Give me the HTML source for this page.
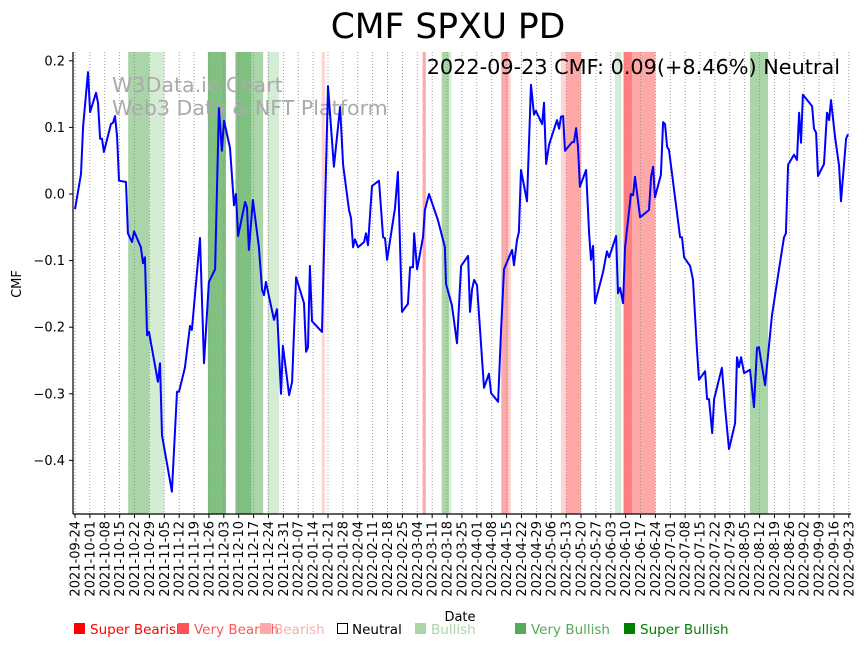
<!DOCTYPE html>
<html><head><meta charset="utf-8"><style>
html,body{margin:0;padding:0;background:#fff;}
svg{display:block;font-family:"DejaVu Sans","Liberation Sans",sans-serif;}
</style></head><body>
<svg id="chart" width="864" height="646" viewBox="0 0 864 646" xmlns="http://www.w3.org/2000/svg">
<text x="448" y="38" font-size="34.5" text-anchor="middle">CMF SPXU PD</text>
<g id="bands"></g>
<g id="grid"></g>
<text x="112" y="92" font-size="20.6" fill="#aaaaaa">W3Data.io Chart</text>
<text x="112" y="115" font-size="20.6" fill="#aaaaaa">Web3 Data &amp; NFT Platform</text>
<g id="series"></g>
<g id="axes"></g>
<text x="840" y="74" font-size="20.8" text-anchor="end">2022-09-23 CMF: 0.09(+8.46%) Neutral</text>
<text x="460" y="621" font-size="13" text-anchor="middle">Date</text>
<text transform="translate(21,284) rotate(-90)" font-size="13" text-anchor="middle">CMF</text>
<g font-size="13.5">
<g><rect x="74" y="623" width="11" height="11" fill="#ff0000"/><text x="90" y="634" fill="#ff0000">Super Bearish</text></g>
<g><rect x="178" y="623" width="11" height="11" fill="#ff5555"/><text x="194" y="634" fill="#ff5555">Very Bearish</text></g>
<g><rect x="260" y="623" width="11" height="11" fill="#ffaaaa"/><text x="274" y="634" fill="#ffaaaa">Bearish</text></g>
<g><rect x="337.5" y="623.5" width="10" height="10" fill="#fff" stroke="#000"/><text x="352" y="634" fill="#000">Neutral</text></g>
<g><rect x="415" y="623" width="11" height="11" fill="#aad4aa"/><text x="431" y="634" fill="#aad4aa">Bullish</text></g>
<g><rect x="515" y="623" width="11" height="11" fill="#55aa55"/><text x="531" y="634" fill="#55aa55">Very Bullish</text></g>
<g><rect x="624" y="623" width="11" height="11" fill="#008000"/><text x="640" y="634" fill="#008000">Super Bullish</text></g>
</g>
</svg>
<script>
const startDate = "2021-09-24";
const dayOffsets = [0,2.8,3.8,6.1,7.1,9.9,10.8,11.8,12.7,13.6,16.9,17.9,18.8,19.8,20.7,24.0,24.9,26.8,27.8,31.0,32.0,32.9,33.9,34.8,39.0,40.0,40.9,45.6,48.0,48.9,51.7,54.1,55.0,58.8,60.7,63.0,65.9,67.7,69.1,70.1,72.9,74.8,75.7,76.7,80.0,80.9,81.8,83.7,86.5,88.0,88.9,89.8,93.6,95.0,96.9,97.8,100.7,102.1,104.0,107.7,108.7,109.6,110.5,111.5,116.2,119.0,121.8,124.7,126.1,128.9,129.8,130.8,131.7,133.1,136.0,136.9,137.8,139.7,143.0,144.9,145.8,146.8,150.5,151.9,153.8,156.6,157.6,159.0,159.5,160.9,163.7,164.6,166.5,170.7,174.0,174.5,177.3,179.7,181.6,184.9,185.8,186.8,187.7,189.1,192.4,194.7,195.7,199.0,200.4,201.8,205.6,206.5,207.9,208.8,209.8,212.6,214.5,215.9,216.8,219.7,220.6,221.6,223.0,223.9,226.7,227.7,228.6,229.6,230.5,233.8,234.7,235.7,236.6,237.5,240.4,241.8,242.7,243.7,244.6,248.4,250.2,251.2,254.5,255.4,256.4,257.8,258.7,261.5,262.5,263.4,265.8,270.0,271.0,271.9,272.8,275.6,276.6,277.5,278.5,279.4,284.6,285.5,286.5,289.3,290.7,292.6,293.5,296.4,297.3,298.2,299.7,300.6,304.3,305.8,307.6,310.5,311.4,312.3,313.3,314.7,317.5,319.4,320.8,321.7,324.6,327.8,331.1,333.5,334.4,335.4,338.2,339.6,340.6,341.5,342.4,346.7,347.6,348.6,349.5,352.3,353.7,354.7,355.6,357.5,359.4,360.3,362.7,363.6];
const cmfValues = [-0.023,0.030,0.101,0.183,0.123,0.152,0.137,0.083,0.083,0.063,0.105,0.107,0.117,0.086,0.020,0.018,-0.059,-0.072,-0.056,-0.080,-0.104,-0.095,-0.212,-0.207,-0.282,-0.254,-0.362,-0.447,-0.297,-0.297,-0.261,-0.198,-0.204,-0.066,-0.254,-0.132,-0.113,0.129,0.065,0.110,0.069,-0.017,0.000,-0.063,-0.012,-0.020,-0.084,-0.009,-0.080,-0.144,-0.152,-0.132,-0.189,-0.173,-0.300,-0.228,-0.302,-0.282,-0.125,-0.164,-0.237,-0.230,-0.108,-0.191,-0.207,0.162,0.041,0.131,0.044,-0.024,-0.036,-0.080,-0.068,-0.080,-0.072,-0.059,-0.077,0.012,0.020,-0.065,-0.066,-0.099,-0.021,0.033,-0.177,-0.165,-0.110,-0.110,-0.059,-0.113,-0.065,-0.024,0.000,-0.039,-0.080,-0.135,-0.167,-0.224,-0.108,-0.093,-0.177,-0.143,-0.129,-0.137,-0.291,-0.270,-0.299,-0.312,-0.203,-0.113,-0.084,-0.107,-0.069,-0.057,0.036,-0.011,0.164,0.119,0.125,0.105,0.137,0.045,0.074,0.083,0.111,0.098,0.116,0.117,0.065,0.078,0.078,0.099,0.071,0.011,0.036,-0.059,-0.099,-0.078,-0.164,-0.117,-0.086,-0.095,-0.063,-0.149,-0.141,-0.164,-0.081,0.000,-0.002,0.026,-0.035,-0.024,0.026,0.041,-0.005,0.029,0.108,0.105,0.071,0.066,-0.065,-0.065,-0.095,-0.108,-0.129,-0.237,-0.279,-0.266,-0.308,-0.308,-0.359,-0.308,-0.261,-0.321,-0.383,-0.344,-0.245,-0.260,-0.245,-0.269,-0.264,-0.320,-0.231,-0.230,-0.287,-0.183,-0.114,-0.065,-0.059,0.044,0.059,0.051,0.122,0.077,0.149,0.132,0.098,0.092,0.027,0.045,0.122,0.111,0.141,0.086,0.042,-0.011,0.083,0.090];
const yTicks = [0.2,0.1,0.0,-0.1,-0.2,-0.3,-0.4];
const yTickLabels = ["0.2","0.1","0.0","\u22120.1","\u22120.2","\u22120.3","\u22120.4"];
const bandStart = [25,35,62.5,75.5,83,90.5,116,163.5,172.5,176,200.5,204,228.5,231,254,258,262,317.5];
const bandEnd = [35,42,71,83,88.5,96,117.5,165,176,177,204,205,231,238,257,262,273,326];
const bandLevel = ["vbull","bull","sbull","sbull","vbull","bull","bear","vbear","vbull","bull","vbear","bear","bear","vbear","bull","sbear","vbear","vbull"];
const levelColors = {sbull:"#80c080",vbull:"#a9d5a9",bull:"#d4ebd4",bear:"#ffd4d4",vbear:"#ffa8a8",sbear:"#ff8080"};

const NS="http://www.w3.org/2000/svg";
const X0=75, PXD=2.126, Y0=194, PXV=666, TOP=52, BOT=514, LEFT=73, RIGHT=851;
function xScale(d){return X0+d*PXD;}
function yScale(v){return Y0-v*PXV;}
function mk(tag,attrs,parent){const e=document.createElementNS(NS,tag);for(const k in attrs)e.setAttribute(k,attrs[k]);parent.appendChild(e);return e;}

const bands=document.getElementById('bands');
for(let i=0;i<bandStart.length;i++){
  const r=mk('rect',{x:xScale(bandStart[i]),y:TOP,width:(bandEnd[i]-bandStart[i])*PXD,height:BOT-TOP,fill:levelColors[bandLevel[i]]},bands);
  
  
}
const grid=document.getElementById('grid');
const axes=document.getElementById('axes');
const sd=new Date(startDate+"T00:00:00Z");
for(let k=0;k<=52;k++){
  const x=xScale(k*7);
  const gl=mk('line',{x1:x,x2:x,y1:TOP,y2:BOT,stroke:'#888',"stroke-width":0.8,"stroke-dasharray":"1,2"},grid);
  
  
  const tk=mk('line',{x1:x,x2:x,y1:BOT,y2:BOT+4,stroke:'#000',"stroke-width":1},axes);
  
  
  const dt=new Date(sd.getTime()+k*7*86400000);
  const lbl=dt.toISOString().slice(0,10);
  const t=mk('text',{transform:`translate(${x+4.5},${BOT+7}) rotate(-90)`,"font-size":13,"text-anchor":"end"},axes);
  t.textContent=lbl;
  
  
}
for(let i=0;i<yTicks.length;i++){
  const y=yScale(yTicks[i]);
  const tk=mk('line',{x1:LEFT-4,x2:LEFT,y1:y,y2:y,stroke:'#000'},axes);
  
  
  const t=mk('text',{x:LEFT-8,y:y+4.5,"font-size":13,"text-anchor":"end"},axes);
  t.textContent=yTickLabels[i];
  
  
}
const ls=mk('line',{x1:LEFT,x2:LEFT,y1:TOP,y2:BOT,stroke:'#000',"stroke-width":1.2},axes);


const bs=mk('line',{x1:LEFT,x2:RIGHT,y1:BOT,y2:BOT,stroke:'#000',"stroke-width":1.2},axes);



const series=document.getElementById('series');
const pts=dayOffsets.map((d,i)=>xScale(d).toFixed(1)+","+yScale(cmfValues[i]).toFixed(1)).join(" ");
const pl=mk('polyline',{points:pts,fill:'none',stroke:'#0000ff',"stroke-width":2,"stroke-linejoin":"round"},series);


</script>
</body></html>
